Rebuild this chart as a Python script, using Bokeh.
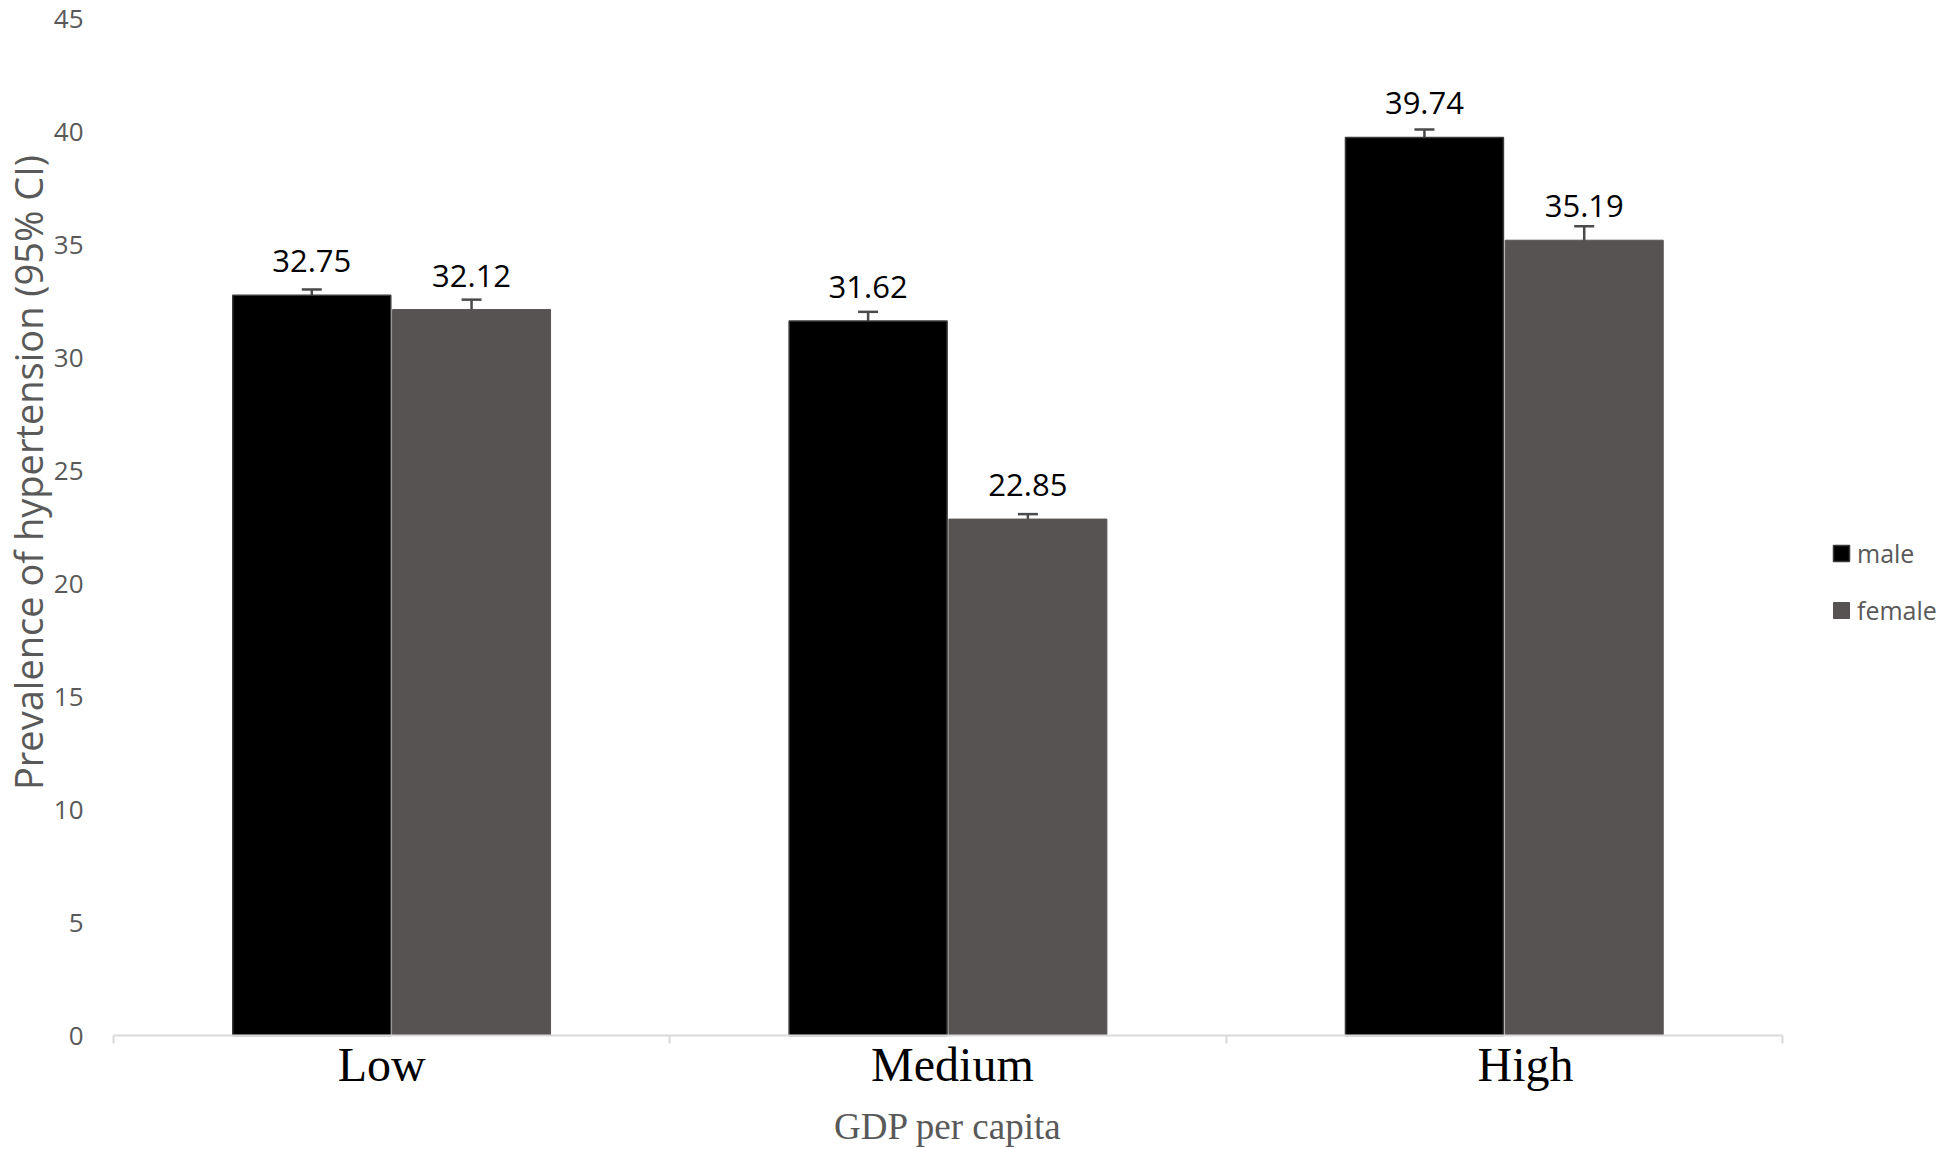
import math
from bokeh.plotting import figure
from bokeh.models import (ColumnDataSource, Range1d, FixedTicker, Legend, LegendItem,
                          Whisker, TeeHead, Label)
from bokeh.core.properties import value
from bokeh.embed import file_html
from bokeh.resources import INLINE

categories = ["Low", "Medium", "High"]
male = [32.75, 31.62, 39.74]
female = [32.12, 22.85, 35.19]
male_lo = [32.13, 31.18, 39.17]
male_hi = [33.01, 32.02, 40.09]
female_lo = [31.77, 22.41, 34.79]
female_hi = [32.56, 23.07, 35.81]
label_pos = [0.482, 1.508, 2.538]     # where the category names sit on the x axis
y_ticks = [0, 5, 10, 15, 20, 25, 30, 35, 40, 45]

MALE_C = "#000000"
FEMALE_C = "#575352"
GRAY = "#595959"

W, H = 1946, 1149
X0, X3 = 113, 1782          # pixel of x=0 and x=3
Y0, Y45 = 1035, 18          # pixel of y=0 and y=45
sx = (X3 - X0) / 3.0
sy = (Y0 - Y45) / 45.0

xc = [i + 0.5 for i in range(len(categories))]
off = 0.1436
bw = 0.284

src_m = ColumnDataSource(dict(x=[v - off for v in xc], top=male, lo=male_lo, hi=male_hi,
                              lab=[f"{m:.2f}" for m in male]))
src_f = ColumnDataSource(dict(x=[v + off for v in xc], top=female, lo=female_lo, hi=female_hi,
                              lab=[f"{m:.2f}" for m in female]))

p = figure(width=W, height=H, output_backend="svg", toolbar_location=None,
           x_range=Range1d(-X0 / sx, (W - X0) / sx),
           y_range=Range1d(-(H - Y0) / sy, 45 + Y45 / sy),
           min_border=0)
p.outline_line_color = None
p.grid.grid_line_color = None

rm = p.vbar(x="x", top="top", bottom=0, width=bw, source=src_m,
            fill_color=MALE_C, line_color="#3a3a3a", line_width=1.5)
rf = p.vbar(x="x", top="top", bottom=0, width=bw, source=src_f,
            fill_color=FEMALE_C, line_color=FEMALE_C, line_width=1)

for s in (src_m, src_f):
    w = Whisker(base="x", lower="lo", upper="hi", source=s, dimension="height",
                line_color="#4a4a4a", line_width=2.5,
                upper_head=TeeHead(size=20, line_color="#4a4a4a", line_width=2.5),
                lower_head=TeeHead(size=20, line_color="#4a4a4a", line_width=2.5))
    p.add_layout(w)
    p.text(x="x", y="top", text="lab", source=s, text_align="center",
           text_baseline="alphabetic", y_offset=-34,
           text_font=value("Open Sans"), text_font_size="31px", text_color="#000000")

# x axis, pinned at y = 0
xa = p.xaxis[0]
xa.fixed_location = 0
xa.bounds = (0, 3)
xa.ticker = FixedTicker(ticks=label_pos, minor_ticks=[0, 1, 2, 3])
xa.major_label_overrides = {v: c for v, c in zip(label_pos, categories)}
xa.major_tick_out = 0
xa.major_tick_in = 0
xa.minor_tick_out = 8
xa.minor_tick_in = 0
xa.minor_tick_line_color = "#d9d9d9"
xa.minor_tick_line_width = 2
xa.axis_line_color = "#d9d9d9"
xa.axis_line_width = 2
xa.major_label_text_font = "Liberation Serif"
xa.major_label_text_font_size = "48px"
xa.major_label_text_color = "#000000"
xa.major_label_standoff = -6

p.add_layout(Label(x=1.5, y=-(1126 - Y0) / sy, text="GDP per capita", text_align="center",
                   text_baseline="middle", text_font="Liberation Serif",
                   text_font_size="37px", text_color=GRAY))

# y axis, pinned at x = 0
ya = p.yaxis[0]
ya.fixed_location = 0
ya.bounds = (0, 45)
ya.ticker = FixedTicker(ticks=y_ticks)
ya.axis_line_color = None
ya.major_tick_line_color = None
ya.minor_tick_line_color = None
ya.major_tick_out = 0
ya.major_tick_in = 0
ya.major_label_standoff = 30
ya.major_label_text_font = "Open Sans"
ya.major_label_text_font_size = "26px"
ya.major_label_text_color = GRAY

p.add_layout(Label(x=(27 - X0) / sx, y=(Y0 - 472) / sy,
                   text="Prevalence of hypertension (95% CI)",
                   angle=math.pi / 2, text_align="center", text_baseline="middle",
                   text_line_height=1.0,
                   text_font="Open Sans", text_font_size="38px", text_color=GRAY))

legend = Legend(items=[LegendItem(label="male", renderers=[rm]),
                       LegendItem(label="female", renderers=[rf])],
                location=(1831, 522), orientation="vertical",
                glyph_width=20, glyph_height=20, label_height=30,
                spacing=23, padding=0, margin=0, label_standoff=6,
                label_text_font="Open Sans", label_text_font_size="25px",
                label_text_color=GRAY, border_line_color=None,
                background_fill_alpha=0)
p.add_layout(legend, "center")

open("out.html", "w").write(file_html(p, INLINE))
